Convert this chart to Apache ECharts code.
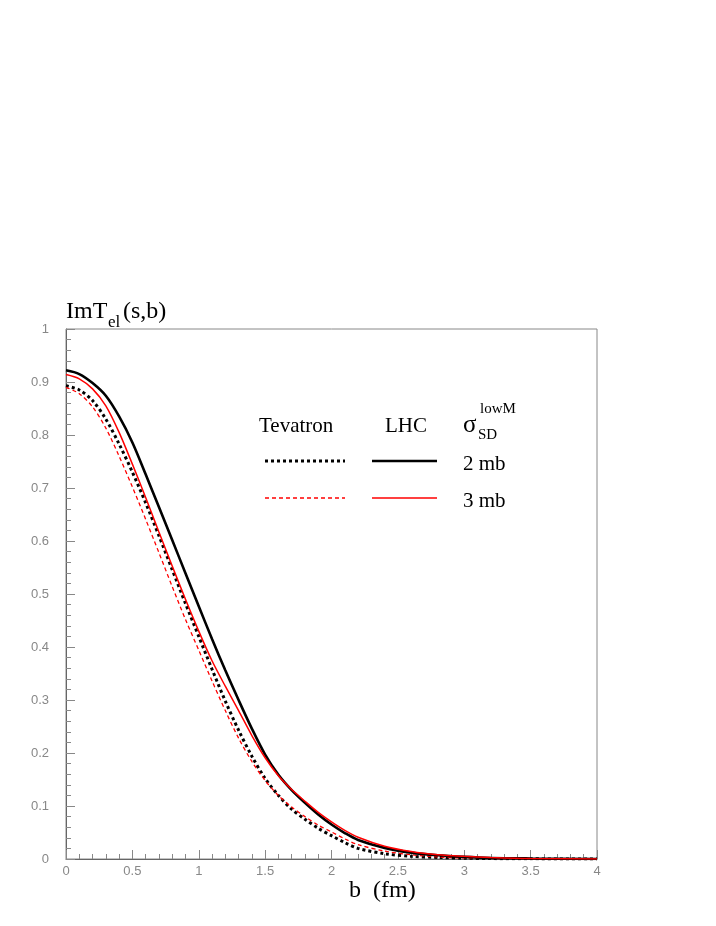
<!DOCTYPE html>
<html>
<head>
<meta charset="utf-8">
<script src="https://cdn.jsdelivr.net/npm/echarts@6/dist/echarts.min.js"></script>
<style>
  html, body { margin: 0; padding: 0; background: #fff; }
  #imTel { width: 716px; height: 926px; }
</style>
</head>
<body>
<div id="imTel"></div>
<script>
// impact parameter b (fm)
const bValues = [0, 0.1, 0.2, 0.3, 0.4, 0.5, 0.6, 0.7, 0.8, 0.9, 1.0, 1.1, 1.2, 1.3, 1.4, 1.5, 1.6, 1.7, 1.8, 1.9, 2.0, 2.1, 2.2, 2.4, 2.6, 2.8, 3.0, 3.2, 3.5, 4.0]
// ImT_el(s,b)
const lhc2mb = [0.922, 0.915, 0.898, 0.874, 0.835, 0.786, 0.726, 0.664, 0.602, 0.539, 0.477, 0.415, 0.356, 0.300, 0.246, 0.197, 0.159, 0.130, 0.106, 0.084, 0.065, 0.049, 0.036, 0.021, 0.012, 0.007, 0.004, 0.002, 0.001, 0.0]
const lhc3mb = [0.914, 0.906, 0.887, 0.855, 0.805, 0.745, 0.682, 0.617, 0.553, 0.490, 0.430, 0.374, 0.326, 0.280, 0.233, 0.191, 0.157, 0.131, 0.109, 0.088, 0.070, 0.054, 0.041, 0.024, 0.014, 0.008, 0.005, 0.003, 0.001, 0.0]
const tev2mb = [0.893, 0.885, 0.865, 0.830, 0.783, 0.730, 0.672, 0.610, 0.546, 0.482, 0.420, 0.358, 0.298, 0.243, 0.194, 0.152, 0.120, 0.094, 0.075, 0.058, 0.044, 0.031, 0.020, 0.010, 0.005, 0.003, 0.0015, 0.0008, 0.0003, 0.0]
const tev3mb = [0.890, 0.878, 0.853, 0.813, 0.760, 0.702, 0.641, 0.578, 0.514, 0.452, 0.394, 0.336, 0.280, 0.228, 0.184, 0.148, 0.120, 0.098, 0.080, 0.064, 0.051, 0.038, 0.027, 0.015, 0.008, 0.004, 0.002, 0.001, 0.0005, 0.0]

const serif = '"Liberation Serif", "DejaVu Serif", serif'
const toPairs = arr => bValues.map((b, i) => [b, arr[i]])

const chart = echarts.init(document.getElementById('imTel'))

// legend pieces and latex-like labels, drawn as plain graphics
const txt = (text, x, y, size) => ({
  type: 'text',
  style: { text: text, x: x, y: y, font: size + 'px ' + serif, fill: '#000', textVerticalAlign: 'middle' }
})
const sample = (x1, x2, y, color, width, dash) => ({
  type: 'line',
  shape: { x1: x1, y1: y, x2: x2, y2: y },
  style: { stroke: color, lineWidth: width, lineDash: dash }
})

const option = {
  backgroundColor: '#fff',
  animation: false,
  grid: {
    left: 66,
    right: 119,
    top: 329,
    bottom: 67,
    show: true,
    borderColor: '#888',
    borderWidth: 1
  },
  xAxis: {
    type: 'value',
    min: 0,
    max: 4,
    interval: 0.5,
    axisLine: { show: true, lineStyle: { color: '#666', width: 1 } },
    axisTick: { show: true, inside: true, length: 9, lineStyle: { color: '#888' } },
    minorTick: { show: true, splitNumber: 5, length: 5, lineStyle: { color: '#888' } },
    splitLine: { show: false },
    axisLabel: { color: '#888', fontSize: 13, fontFamily: '"Liberation Sans", sans-serif', margin: 6 }
  },
  yAxis: {
    type: 'value',
    min: 0,
    max: 1,
    interval: 0.1,
    axisLine: { show: true, lineStyle: { color: '#666', width: 1 } },
    axisTick: { show: true, inside: true, length: 9, lineStyle: { color: '#888' } },
    minorTick: { show: true, splitNumber: 5, length: 5, lineStyle: { color: '#888' } },
    splitLine: { show: false },
    axisLabel: { color: '#888', fontSize: 13, fontFamily: '"Liberation Sans", sans-serif', margin: 17 }
  },
  series: [{
    name: 'Tevatron 2 mb',
    type: 'line',
    data: toPairs(tev2mb),
    smooth: 0.3,
    showSymbol: false,
    lineStyle: { color: '#000', width: 3, type: [3, 3] }
  }, {
    name: 'Tevatron 3 mb',
    type: 'line',
    data: toPairs(tev3mb),
    smooth: 0.3,
    showSymbol: false,
    lineStyle: { color: '#ff0000', width: 1.3, type: [4, 3] }
  }, {
    name: 'LHC 2 mb',
    type: 'line',
    data: toPairs(lhc2mb),
    smooth: 0.3,
    showSymbol: false,
    lineStyle: { color: '#000', width: 2.6 }
  }, {
    name: 'LHC 3 mb',
    type: 'line',
    data: toPairs(lhc3mb),
    smooth: 0.3,
    showSymbol: false,
    lineStyle: { color: '#ff0000', width: 1.5 }
  }],
  graphic: [
    // y title ImT_el(s,b)
    txt('ImT', 66, 312, 24),
    txt('el', 108, 323, 17),
    txt('(s,b)', 123, 312, 24),
    // x title
    txt('b  (fm)', 349, 891, 24),
    // legend header
    txt('Tevatron', 259, 426, 21),
    txt('LHC', 385, 426, 21),
    txt('σ', 463, 425, 25),
    txt('lowM', 480, 409, 15),
    txt('SD', 478, 435, 15),
    // legend rows
    sample(265, 345, 461, '#000', 3, [3, 3]),
    sample(372, 437, 461, '#000', 2.6, null),
    txt('2 mb', 463, 464, 21),
    sample(265, 345, 498, '#ff0000', 1.3, [4, 3]),
    sample(372, 437, 498, '#ff0000', 1.5, null),
    txt('3 mb', 463, 501, 21)
  ]
}

chart.setOption(option)
</script>
</body>
</html>
